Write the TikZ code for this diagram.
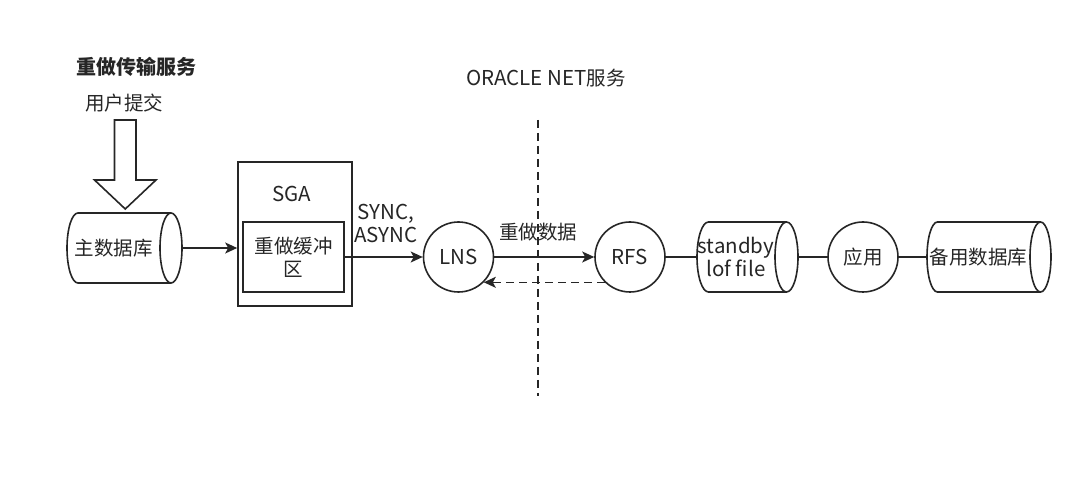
\documentclass[tikz,border=0pt]{standalone}
\usepackage{fontspec}
\setmainfont{Noto Sans CJK SC}
\usetikzlibrary{arrows.meta}
\newcommand{\LT}[1]{{\fontsize{20.5}{23}\selectfont #1}}
\newcommand{\mycyl}[6]{%
  \draw[ln, fill=white] ({#2-#4+#5},{#3+35}) -- ({#2+#4-#5},{#3+35})
    arc[start angle=90,end angle=-90,x radius=#5,y radius=35]
    -- ({#2-#4+#5},{#3-35})
    arc[start angle=270,end angle=90,x radius=#5,y radius=35] -- cycle;
  \draw[ln] ({#2+#4-#5},{#3+35}) arc[start angle=90,end angle=270,x radius=#5,y radius=35];
  \node[minimum width={2*#4}, minimum height=70, inner sep=0pt] (#1) at (#2,#3) {};
  \node[align=center] (#1-t) at ({#2-#5},#3) {#6};
}
\begin{document}
\begin{tikzpicture}[x=1pt,y=1pt,
  every node/.style={font=\fontsize{19.5}{23}\selectfont, inner sep=0pt, text=black!85},
  ln/.style={line width=1.6pt, draw=black!85},
  arr/.style={ln, -{Stealth[length=12pt,width=11pt,inset=3pt]}},
  dsh/.style={dash pattern=on 8pt off 5pt},
  circ/.style={circle, draw=black!85, line width=1.6pt, minimum size=70pt, inner sep=0pt},
  box/.style={draw=black!85, line width=1.6pt, inner sep=0pt},
]
\useasboundingbox[fill=white] (0,0) rectangle (1066,495);

% titles
\node[font=\fontsize{20}{23}\selectfont\bfseries] (title) at (136,428) {重做传输服务};
\node (commit) at (124,392) {用户提交};
\node (oracle) at (546,417) {\LT{ORACLE NET}服务};

% block arrow
\draw[ln, fill=white] (114.5,375) -- (136,375) -- (136,315) -- (156,315) -- (125.25,286)
  -- (94.5,315) -- (114.5,315) -- cycle;

% primary database
\mycyl{db1}{124.5}{247}{57.5}{11}{主数据库}

% SGA
\node[box, minimum width=114, minimum height=144] (sga) at (295,261) {};
\node (sgal) at (292,301) {\LT{SGA}};
\node[box, minimum width=101, minimum height=70, align=center] (buf) at (293.5,238) {重做缓冲\\区};

% Oracle net boundary
\coordinate (v1) at (538,375);
\coordinate (v2) at (538,99);
\draw[ln, dsh] (v1) -- (v2);

% LNS / RFS
\node[circ] (lns) at (458.5,238) {\LT{LNS}};
\node[circ] (rfs) at (630,238) {\LT{RFS}};
\node[font=\fontsize{20.5}{23}\selectfont, align=center] (sync) at (386,272) {SYNC,\\ASYNC};
\node (redo) at (538,263) {重做数据};

% standby side
\mycyl{sb}{747.5}{238}{50.5}{11.5}{\LT{standby}\\\LT{lof file}}
\node[circ] (app) at (863,238) {应用};
\mycyl{db2}{989}{238}{62}{10.5}{备用数据库}

% connectors
\draw[arr] (db1.east) -- (db1.east -| sga.west);
\draw[arr] (buf.east) -- (lns.west);
\draw[arr] (lns.east) -- (rfs.west);
\draw[arr, dsh] (rfs.south west) -- (lns.south east);
\draw[ln] (rfs.east) -- (sb.west);
\draw[ln] (sb.east) -- (app.west);
\draw[ln] (app.east) -- (db2.west);
\end{tikzpicture}
\end{document}
